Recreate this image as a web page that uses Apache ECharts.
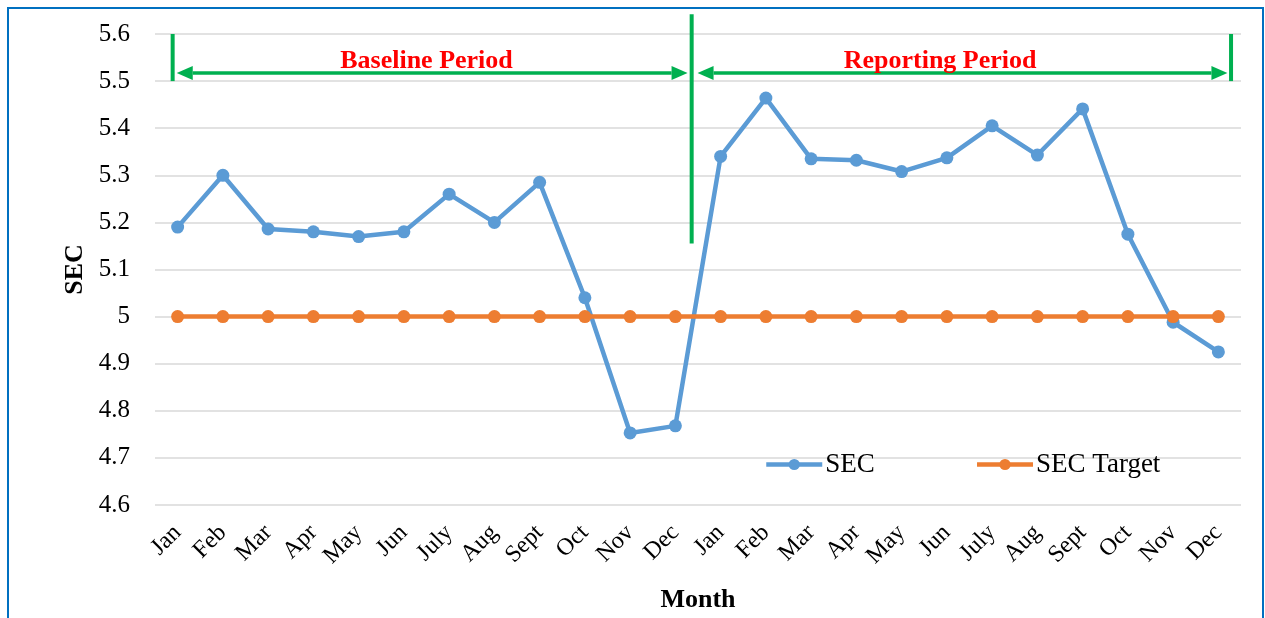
<!DOCTYPE html>
<html>
<head>
<meta charset="utf-8">
<script src="https://cdn.jsdelivr.net/npm/echarts@6/dist/echarts.min.js"></script>
<style>
  html, body { margin: 0; padding: 0; background: #fff; }
  #chart { width: 1265px; height: 618px; }
</style>
</head>
<body>
<div id="chart"></div>
<script>
const months = ['Jan', 'Feb', 'Mar', 'Apr', 'May', 'Jun', 'July', 'Aug', 'Sept', 'Oct', 'Nov', 'Dec',
  'Jan', 'Feb', 'Mar', 'Apr', 'May', 'Jun', 'July', 'Aug', 'Sept', 'Oct', 'Nov', 'Dec'];
const secValues = [5.19, 5.30, 5.186, 5.18, 5.17, 5.18, 5.26, 5.20, 5.285, 5.04, 4.753, 4.768,
  5.34, 5.464, 5.335, 5.332, 5.308, 5.337, 5.405, 5.343, 5.441, 5.175, 4.988, 4.925];
const targetValues = [5, 5, 5, 5, 5, 5, 5, 5, 5, 5, 5, 5, 5, 5, 5, 5, 5, 5, 5, 5, 5, 5, 5, 5];
const periodLabels = ['Baseline Period', 'Reporting Period'];

const FONT = '"Liberation Serif", "Times New Roman", serif';
const GREEN = '#00b050';

const chart = echarts.init(document.getElementById('chart'));
chart.setOption({
  animation: false,
  textStyle: { fontFamily: FONT },
  grid: { left: 155, right: 24, top: 34, bottom: 113 },
  legend: {
    data: ['SEC', 'SEC Target'],
    left: 759, top: 446, itemGap: 100,
    itemWidth: 56, itemHeight: 14,
    lineStyle: { width: 4.5 },
    textStyle: { fontFamily: FONT, fontSize: 27, color: '#000', padding: [0, 0, 0, -2] }
  },
  xAxis: {
    type: 'category', data: months, boundaryGap: true,
    name: 'Month', nameLocation: 'middle', nameGap: 82,
    nameTextStyle: { fontFamily: FONT, fontSize: 26, fontWeight: 'bold', color: '#000' },
    axisLine: { show: false }, axisTick: { show: false },
    axisLabel: { rotate: 45, interval: 0, fontFamily: FONT, fontSize: 24, color: '#000', margin: 24 }
  },
  yAxis: {
    type: 'value', min: 4.6, max: 5.6, interval: 0.1,
    name: 'SEC', nameLocation: 'middle', nameGap: 64, nameRotate: 90,
    nameTextStyle: { fontFamily: FONT, fontSize: 26, fontWeight: 'bold', color: '#000' },
    axisLine: { show: false }, axisTick: { show: false },
    axisLabel: { fontFamily: FONT, fontSize: 25, color: '#000', margin: 25,
      formatter: v => String(Math.round(v * 10) / 10) },
    splitLine: { lineStyle: { color: '#d9d9d9', width: 1.5 } }
  },
  series: [
    { name: 'SEC', type: 'line', data: secValues, symbol: 'circle', symbolSize: 13,
      lineStyle: { width: 4.5, color: '#5b9bd5' }, itemStyle: { color: '#5b9bd5' } },
    { name: 'SEC Target', type: 'line', data: targetValues, symbol: 'circle', symbolSize: 13,
      lineStyle: { width: 4.5, color: '#ed7d31' }, itemStyle: { color: '#ed7d31' } }
  ]
});

// period annotations placed through the axes
function px(idx, val) {
  const a = chart.convertToPixel({ gridIndex: 0 }, [0, val]);
  const b = chart.convertToPixel({ gridIndex: 0 }, [23, val]);
  return [a[0] + (b[0] - a[0]) * idx / 23, a[1]];
}
function vline(idx, v0, v1) {
  const p0 = px(idx, v0), p1 = px(idx, v1);
  return { type: 'line', shape: { x1: p0[0], y1: p0[1], x2: p1[0], y2: p1[1] }, style: { stroke: GREEN, lineWidth: 4 } };
}
function arrow(i0, i1, val) {
  const p0 = px(i0, val), p1 = px(i1, val);
  const L = 16, H = 7;
  return [
    { type: 'line', shape: { x1: p0[0] + L, y1: p0[1], x2: p1[0] - L, y2: p1[1] }, style: { stroke: GREEN, lineWidth: 3.5 } },
    { type: 'polygon', shape: { points: [[p0[0], p0[1]], [p0[0] + L, p0[1] - H], [p0[0] + L, p0[1] + H]] }, style: { fill: GREEN } },
    { type: 'polygon', shape: { points: [[p1[0], p1[1]], [p1[0] - L, p1[1] - H], [p1[0] - L, p1[1] + H]] }, style: { fill: GREEN } }
  ];
}
function label(idx, val, text) {
  const p = px(idx, val);
  return { type: 'text', x: p[0], y: p[1],
    style: { text: text, fill: '#ff0000', font: 'bold 26px ' + FONT, align: 'center', verticalAlign: 'middle' } };
}
const arrowY = 5.517;
chart.setOption({
  graphic: [
    { type: 'rect', shape: { x: 8, y: 8, width: 1255, height: 640 }, style: { fill: 'none', stroke: '#0070c0', lineWidth: 2 }, silent: true },
    vline(-0.11, 5.6, 5.5),
    vline(11.36, 5.642, 5.155),
    vline(23.28, 5.6, 5.5),
    ...arrow(-0.02, 11.27, arrowY),
    ...arrow(11.49, 23.2, arrowY),
    label(5.5, 5.543, periodLabels[0]),
    label(16.85, 5.543, periodLabels[1])
  ]
});
</script>
</body>
</html>
